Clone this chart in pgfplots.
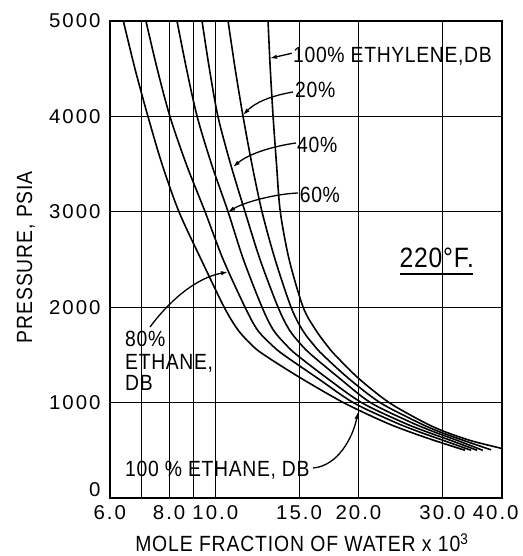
\documentclass[border=0pt]{standalone}
\usepackage{fontspec}
\setmainfont{Liberation Sans}
\newfontfamily\tickfont{Liberation Sans}[FakeStretch=1.02,LetterSpace=10]
\newfontfamily\labfont{Liberation Sans}[FakeStretch=0.88,LetterSpace=4]
\newfontfamily\annfont{Liberation Sans}[FakeStretch=0.88,LetterSpace=3]
\usepackage{pgfplots}
\pgfplotsset{compat=1.18}
\usetikzlibrary{arrows.meta}

\pgfplotstableread{
x y
6.41 5000
6.78 4500
7.22 4000
7.73 3500
8.39 3000
9.34 2500
10.44 2000
11.17 1760
11.95 1600
12.67 1500
15.0 1268
18.6 1000
22.6 800
25.4 700
29.0 600
33.5 500
}\cA
\pgfplotstableread{
x y
7.15 5000
7.55 4500
8.03 4000
8.69 3500
9.52 3000
10.39 2500
11.55 2000
12.27 1760
13.17 1600
13.93 1500
16.47 1250
19.5 1000
23.7 800
26.6 700
30.3 600
34.5 500
}\cB
\pgfplotstableread{
x y
8.31 5000
8.70 4500
9.16 4000
9.82 3500
10.64 3000
11.46 2500
12.54 2000
13.25 1760
14.12 1600
14.84 1500
17.24 1250
20.3 1000
24.6 800
27.6 700
31.4 600
35.5 500
}\cC
\pgfplotstableread{
x y
9.38 5000
9.72 4500
10.13 4000
10.77 3500
11.55 3000
12.42 2500
13.55 2000
14.32 1760
15.20 1600
15.93 1500
18.3 1250
21.2 1000
25.6 800
28.6 700
32.4 600
36.5 500
}\cD
\pgfplotstableread{
x y
10.64 5000
11.01 4500
11.44 4000
11.94 3500
12.54 3000
13.36 2500
14.43 2000
15.25 1760
16.13 1600
16.83 1500
19.1 1250
22.2 1000
26.5 800
29.4 700
33.4 600
38.0 505
}\cE
\pgfplotstableread{
x y
12.91 5000
13.05 4500
13.23 4000
13.45 3500
13.70 3000
14.3 2500
15.3 2000
16.27 1760
17.17 1600
17.85 1500
20.05 1250
23.2 1000
27.3 800
30.2 700
34.5 600
40 520
}\cF

\begin{document}
\begin{tikzpicture}[x=1bp,y=1bp]
\begin{axis}[
  width=392bp, height=477bp, scale only axis,
  xmode=log, xmin=6, xmax=40, ymin=0, ymax=5000,
  xtick={6,8,10,15,20,30,40},
  xticklabels={6.0,8.0,10.0,15.0,20.0,30.0,40.0\hspace*{12bp}},
  extra x ticks={7,9},
  extra x tick labels={},
  extra x tick style={grid=major},
  ytick={0,1000,2000,3000,4000,5000},
  yticklabels={\raisebox{8bp}[\height][0pt]{0},1000,2000,3000,4000,5000},
  grid=major,
  major x grid style={line width=0.8bp, black},
  major y grid style={line width=1.3bp, black},
  major tick length=0pt,
  tick style={draw=none},
  axis line style={line width=1.7bp},
  ticklabel style={font=\tickfont\fontsize{20bp}{22bp}\selectfont, inner sep=0pt},
  xticklabel style={anchor=north, yshift=-7bp},
  yticklabel style={anchor=east, xshift=-9bp},
  xlabel={MOLE FRACTION OF WATER x 10\textsuperscript{3}},
  ylabel={PRESSURE, PSIA},
  label style={font=\labfont\fontsize{22bp}{24bp}\selectfont, inner sep=0pt},
  xlabel style={at={(axis description cs:0.49,-0.1132)}, anchor=base},
  ylabel style={at={(axis description cs:-0.1982,0.505)}, anchor=base},
]
\addplot[black, line width=1.6bp, smooth] table {\cA};
\addplot[black, line width=1.6bp, smooth] table {\cB};
\addplot[black, line width=1.6bp, smooth] table {\cC};
\addplot[black, line width=1.6bp, smooth] table {\cD};
\addplot[black, line width=1.6bp, smooth] table {\cE};
\addplot[black, line width=1.6bp, smooth] table {\cF};
\end{axis}

\tikzset{arr/.style={line width=1.3bp, -{Latex[length=7bp,width=4.5bp]}},
  ann/.style={font=\annfont\fontsize{22bp}{24bp}\selectfont, inner sep=0pt, anchor=base west}}

\node[ann] at (183.3,435.3) {100\% ETHYLENE,DB};
\draw[arr] (182,444.7) -- (160.3,439.7);

\node[ann] at (185.3,400) {20\%};
\draw[arr] (183.3,406) .. controls (160,402) and (145,395) .. (133.3,383);

\node[ann] at (187.3,345) {40\%};
\draw[arr] (186.3,355) .. controls (165,352) and (140,345) .. (123.3,331);

\node[ann] at (190,295) {60\%};
\draw[arr] (188.3,305) .. controls (165,304) and (135,296) .. (118.3,286);

\node[ann] at (15.3,151) {80\%};
\node[ann] at (15.3,128) {ETHANE,};
\node[ann] at (15.3,107) {DB};
\draw[arr] (40.3,171) .. controls (58,195) and (85,220) .. (118.3,226);

\node[ann] at (15.3,21) {100 \% ETHANE, DB};
\draw[arr] (203.3,30) .. controls (228,32) and (243,60) .. (248.3,86);

\node[font=\annfont\fontsize{28bp}{30bp}\selectfont, inner sep=0pt, anchor=base] at (327,230) {220\textdegree F.};
\draw[line width=2bp] (290.3,224) -- (363.3,224);

\pgfresetboundingbox
\path[use as bounding box] (-109.7,-58) rectangle (413.3,498);
\end{tikzpicture}
\end{document}
